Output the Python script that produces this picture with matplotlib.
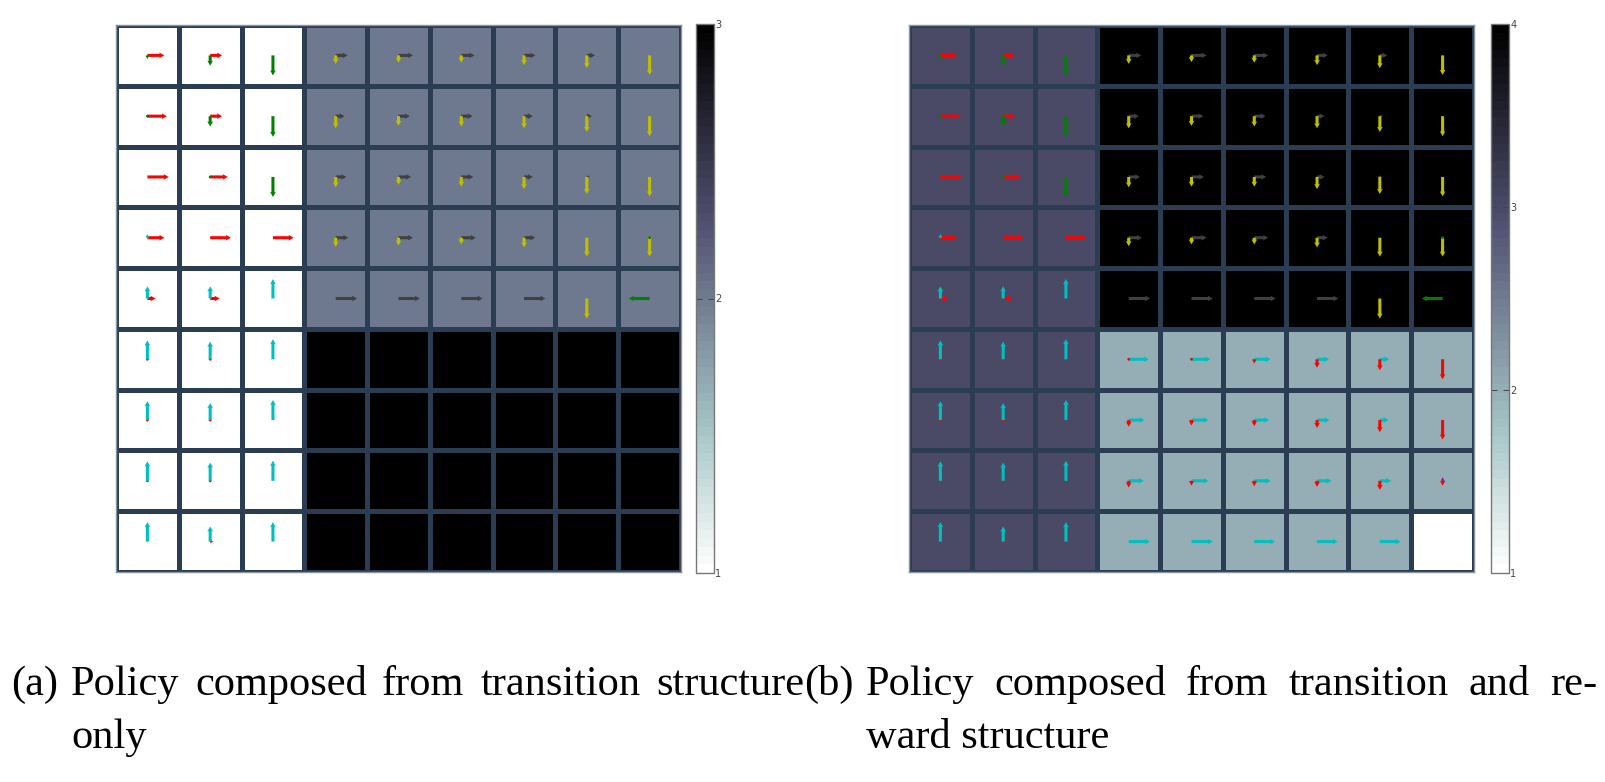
import matplotlib.pyplot as plt
import numpy as np

FIG_W, FIG_H = 1606, 782

# state values shown as cell shading (1 = white ... max = black)
values_a = [
    [1, 1, 1, 2, 2, 2, 2, 2, 2],
    [1, 1, 1, 2, 2, 2, 2, 2, 2],
    [1, 1, 1, 2, 2, 2, 2, 2, 2],
    [1, 1, 1, 2, 2, 2, 2, 2, 2],
    [1, 1, 1, 2, 2, 2, 2, 2, 2],
    [1, 1, 1, 3, 3, 3, 3, 3, 3],
    [1, 1, 1, 3, 3, 3, 3, 3, 3],
    [1, 1, 1, 3, 3, 3, 3, 3, 3],
    [1, 1, 1, 3, 3, 3, 3, 3, 3],
]
values_b = [
    [3, 3, 3, 4, 4, 4, 4, 4, 4],
    [3, 3, 3, 4, 4, 4, 4, 4, 4],
    [3, 3, 3, 4, 4, 4, 4, 4, 4],
    [3, 3, 3, 4, 4, 4, 4, 4, 4],
    [3, 3, 3, 4, 4, 4, 4, 4, 4],
    [3, 3, 3, 2, 2, 2, 2, 2, 2],
    [3, 3, 3, 2, 2, 2, 2, 2, 2],
    [3, 3, 3, 2, 2, 2, 2, 2, 2],
    [3, 3, 3, 2, 2, 2, 2, 2, 1],
]
ticks_a = [1, 2, 3]
ticks_b = [1, 2, 3, 4]

# arrows: (row, col, direction, length in cells)
# left block (cols 0-2) is the same in both panels
red_left = [(0, 0, 'R', .27), (0, 1, 'R', .19),
            (1, 0, 'R', .31), (1, 1, 'R', .19),
            (2, 0, 'R', .34), (2, 1, 'R', .28),
            (3, 0, 'R', .27), (3, 1, 'R', .33), (3, 2, 'R', .33),
            (4, 0, 'R', .13), (4, 1, 'R', .15),
            (5, 0, 'D', .02), (5, 1, 'D', .03),
            (6, 0, 'D', .02), (6, 1, 'D', .05),
            (7, 0, 'D', .02), (7, 1, 'D', .04),
            (8, 1, 'R', .05)]
green_left = [(0, 0, 'D', .06), (0, 1, 'D', .17), (0, 2, 'D', .33),
              (1, 0, 'D', .02), (1, 1, 'D', .17), (1, 2, 'D', .34),
              (2, 1, 'D', .03), (2, 2, 'D', .33)]
cyan_left = [(3, 0, 'U', .06),
             (4, 0, 'U', .20), (4, 1, 'U', .20), (4, 2, 'U', .32),
             (5, 0, 'U', .31), (5, 1, 'U', .29), (5, 2, 'U', .33),
             (6, 0, 'U', .31), (6, 1, 'U', .28), (6, 2, 'U', .33),
             (7, 0, 'U', .32), (7, 1, 'U', .30), (7, 2, 'U', .33),
             (8, 0, 'U', .32), (8, 1, 'U', .25), (8, 2, 'U', .32)]

# panel (a), upper right block
gray_a = [(0, 3, 'R', .19), (0, 4, 'R', .23), (0, 5, 'R', .21), (0, 6, 'R', .18), (0, 7, 'R', .13),
          (1, 3, 'R', .14), (1, 4, 'R', .18), (1, 5, 'R', .18), (1, 6, 'R', .14), (1, 7, 'R', .08),
          (2, 3, 'R', .17), (2, 4, 'R', .20), (2, 5, 'R', .19), (2, 6, 'R', .14), (2, 7, 'R', .05),
          (3, 3, 'R', .20), (3, 4, 'R', .23), (3, 5, 'R', .23), (3, 6, 'R', .18),
          (4, 3, 'R', .34), (4, 4, 'R', .34), (4, 5, 'R', .34), (4, 6, 'R', .34)]
yellow_a = [(0, 3, 'D', .14), (0, 4, 'D', .12), (0, 5, 'D', .12), (0, 6, 'D', .16), (0, 7, 'D', .21), (0, 8, 'D', .32),
            (1, 3, 'D', .20), (1, 4, 'D', .16), (1, 5, 'D', .17), (1, 6, 'D', .20), (1, 7, 'D', .26), (1, 8, 'D', .33),
            (2, 3, 'D', .17), (2, 4, 'D', .13), (2, 5, 'D', .16), (2, 6, 'D', .20), (2, 7, 'D', .28), (2, 8, 'D', .32),
            (3, 3, 'D', .15), (3, 4, 'D', .13), (3, 5, 'D', .11), (3, 6, 'D', .16), (3, 7, 'D', .31), (3, 8, 'D', .31),
            (4, 7, 'D', .33)]
green_a = [(3, 8, 'U', .02), (4, 8, 'L', .33)]

# panel (b), upper right block
gray_b = [(0, 3, 'R', .20), (0, 4, 'R', .24), (0, 5, 'R', .22), (0, 6, 'R', .17), (0, 7, 'R', .12),
          (1, 3, 'R', .16), (1, 4, 'R', .19), (1, 5, 'R', .18), (1, 6, 'R', .12), (1, 7, 'R', .05),
          (2, 3, 'R', .18), (2, 4, 'R', .20), (2, 5, 'R', .19), (2, 6, 'R', .12), (2, 7, 'R', .03),
          (3, 3, 'R', .21), (3, 4, 'R', .24), (3, 5, 'R', .22), (3, 6, 'R', .17),
          (4, 3, 'R', .34), (4, 4, 'R', .34), (4, 5, 'R', .34), (4, 6, 'R', .34)]
yellow_b = [(0, 3, 'D', .14), (0, 4, 'D', .11), (0, 5, 'D', .12), (0, 6, 'D', .16), (0, 7, 'D', .21), (0, 8, 'D', .32),
            (1, 3, 'D', .20), (1, 4, 'D', .16), (1, 5, 'D', .17), (1, 6, 'D', .20), (1, 7, 'D', .26), (1, 8, 'D', .33),
            (2, 3, 'D', .17), (2, 4, 'D', .16), (2, 5, 'D', .16), (2, 6, 'D', .20), (2, 7, 'D', .28), (2, 8, 'D', .32),
            (3, 3, 'D', .14), (3, 4, 'D', .11), (3, 5, 'D', .11), (3, 6, 'D', .16), (3, 7, 'D', .31), (3, 8, 'D', .31),
            (4, 7, 'D', .33), (7, 8, 'L', .05)]
green_b = [(3, 8, 'U', .02), (4, 8, 'L', .33)]
# panel (b), lower right block
cyan_b = [(5, 3, 'R', .32), (5, 4, 'R', .30), (5, 5, 'R', .26), (5, 6, 'R', .19), (5, 7, 'R', .15),
          (6, 3, 'R', .25), (6, 4, 'R', .27), (6, 5, 'R', .24), (6, 6, 'R', .20), (6, 7, 'R', .14),
          (7, 3, 'R', .24), (7, 4, 'R', .27), (7, 5, 'R', .26), (7, 6, 'R', .23), (7, 7, 'R', .18), (7, 8, 'R', .05),
          (8, 3, 'R', .34), (8, 4, 'R', .34), (8, 5, 'R', .33), (8, 6, 'R', .33), (8, 7, 'R', .33)]
red_b = [(5, 3, 'D', .02), (5, 4, 'D', .03), (5, 5, 'D', .07), (5, 6, 'D', .14), (5, 7, 'D', .18), (5, 8, 'D', .33),
         (6, 3, 'D', .11), (6, 4, 'D', .09), (6, 5, 'D', .10), (6, 6, 'D', .13), (6, 7, 'D', .20), (6, 8, 'D', .32),
         (7, 3, 'D', .11), (7, 4, 'D', .08), (7, 5, 'D', .09), (7, 6, 'D', .10), (7, 7, 'D', .15), (7, 8, 'D', .08)]
magenta_b = [(7, 8, 'U', .06)]

RED, GREEN, CYAN = '#ff0000', '#008000', '#00bfbf'
YELLOW, GRAY, MAGENTA = '#bfbf00', '#404040', '#bf00bf'
DIRS = {'R': (1, 0), 'L': (-1, 0), 'U': (0, -1), 'D': (0, 1)}
EDGE = '#2b3d52'

cmap = plt.get_cmap('bone_r', 64)


def draw_arrows(ax, arrows, color):
    rows, cols, dirs, lens = zip(*arrows)
    x = np.array(cols) + 0.5
    y = np.array(rows) + 0.5
    u = [DIRS[d][0] * l for d, l in zip(dirs, lens)]
    v = [DIRS[d][1] * l for d, l in zip(dirs, lens)]
    ax.quiver(x, y, u, v, color=color, angles='xy', scale_units='xy', scale=1,
              width=0.0054, headwidth=1.9, headlength=1.7, headaxislength=1.5,
              zorder=3)


def draw_panel(rect, cbar_rect, values, ticks, arrow_sets):
    ax = fig.add_axes(rect)
    vals = np.array(values)
    mesh = ax.pcolormesh(np.arange(10), np.arange(10), vals, cmap=cmap,
                         vmin=ticks[0], vmax=ticks[-1],
                         edgecolors=EDGE, linewidth=2.3)
    ax.set_xlim(0, 9)
    ax.set_ylim(9, 0)
    ax.set_xticks([])
    ax.set_yticks([])
    for s in ax.spines.values():
        s.set_color('#8a93a0')
        s.set_linewidth(1.0)
    for arrows, color in arrow_sets:
        draw_arrows(ax, arrows, color)

    cax = fig.add_axes(cbar_rect)
    cb = fig.colorbar(mesh, cax=cax, ticks=ticks)
    cb.outline.set_edgecolor('#777777')
    cb.outline.set_linewidth(1.0)
    cax.tick_params(direction='in', length=4, width=0.7, colors='#444444',
                    labelsize=7, left=True, right=True, labelright=True, pad=1)
    return ax


fig = plt.figure(figsize=(FIG_W / 100, FIG_H / 100), dpi=100)


def px_rect(x0, y0, x1, y1):
    return [x0 / FIG_W, 1 - y1 / FIG_H, (x1 - x0) / FIG_W, (y1 - y0) / FIG_H]


draw_panel(px_rect(116, 25, 681, 572), px_rect(696, 24, 714, 573), values_a, ticks_a,
           [(red_left, RED), (green_left, GREEN), (cyan_left, CYAN),
            (gray_a, GRAY), (yellow_a, YELLOW), (green_a, GREEN)])
draw_panel(px_rect(909, 25, 1474, 572), px_rect(1491, 24, 1509, 573), values_b, ticks_b,
           [(red_left, RED), (green_left, GREEN), (cyan_left, CYAN),
            (gray_b, GRAY), (yellow_b, YELLOW), (green_b, GREEN),
            (cyan_b, CYAN), (red_b, RED), (magenta_b, MAGENTA)])

# captions, justified like the typeset original
cap_kw = dict(fontfamily='Liberation Serif', fontsize=30.5, va='baseline', color='black')
renderer = fig.canvas.get_renderer()


def justify(words, x0, x1, y_px):
    texts = [fig.text(0, 1 - y_px / FIG_H, w, **cap_kw) for w in words]
    widths = [t.get_window_extent(renderer).width for t in texts]
    gap = (x1 - x0 - sum(widths)) / (len(words) - 1)
    x = x0
    for t, w in zip(texts, widths):
        t.set_x(x / FIG_W)
        x += w + gap


line1_y, line2_y = 695, 748
fig.text(58 / FIG_W, 1 - line1_y / FIG_H, '(a)', ha='right', **cap_kw)
justify(['Policy', 'composed', 'from', 'transition', 'structure'], 71, 804, line1_y)
fig.text(71 / FIG_W, 1 - line2_y / FIG_H, 'only', **cap_kw)
fig.text(804 / FIG_W, 1 - line1_y / FIG_H, '(b)', **cap_kw)
justify(['Policy', 'composed', 'from', 'transition', 'and', 're-'], 866, 1597, line1_y)
fig.text(866 / FIG_W, 1 - line2_y / FIG_H, 'ward structure', **cap_kw)

fig.savefig('out.png', dpi=100)
